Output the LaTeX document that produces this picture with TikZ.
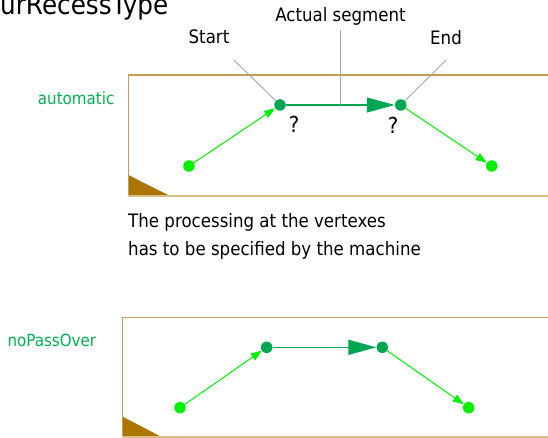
\documentclass[tikz,border=0pt]{standalone}
\usepackage{fontspec}
\setmainfont{DejaVu Sans}[FakeStretch=0.9]
\usetikzlibrary{arrows.meta}
\definecolor{boxc}{RGB}{196,156,84}
\definecolor{boxlight}{RGB}{218,190,136}
\definecolor{wedge}{RGB}{170,117,0}
\definecolor{lgreen}{RGB}{0,240,0}
\definecolor{dgreen}{RGB}{0,166,81}
\definecolor{lblgreen}{RGB}{0,176,80}
\definecolor{leadc}{RGB}{165,165,165}
\begin{document}
\begin{tikzpicture}[x=1pt,y=-1pt,
  txt/.style={inner sep=0pt,font=\fontsize{18.5}{22}\selectfont,text=black},
  lbl/.style={inner sep=0pt,font=\fontsize{16.8}{20}\selectfont,text=lblgreen},
  qm/.style={inner sep=0pt,font=\fontsize{22}{26}\selectfont,text=black},
  ttl/.style={inner sep=0pt,font=\fontsize{27.4}{32}\selectfont,text=black},
  ldot/.style={circle,inner sep=0pt,minimum size=11.5pt,fill=lgreen},
  ddot/.style={circle,inner sep=0pt,minimum size=11.5pt,fill=dgreen},
  thinarrow/.style={draw=lgreen,line width=1pt,-{Triangle[length=11pt,width=8pt]},fill=lgreen},
  segarrow/.style={draw=dgreen,line width=1.2pt,-{Triangle[length=28pt,width=15pt]},fill=dgreen},
  leadline/.style={draw=leadc,line width=0.9pt},
  frametop/.style={draw=boxc,line width=1.5pt},
  framebot/.style={draw=boxlight,line width=1.5pt},
  wedgefill/.style={fill=wedge}
]
\useasboundingbox (0,0) rectangle (548,438);

% title
\node[ttl,anchor=base west] (title) at (0,15) {urRecessType};

% ---------- top panel ----------
\fill[wedgefill] (128.3,175) -- (128.3,196) -- (170,196) -- cycle;
\draw[frametop] (550,75) -- (128.3,75) -- (128.3,196);
\draw[framebot] (128.3,196) -- (550,196);

\node[lbl,anchor=base west] (auto) at (37.7,105) {automatic};

\node[ldot] (a1) at (189,166) {};
\node[ddot] (a2) at (280,105) {};
\node[ddot] (a3) at (400.7,105) {};
\node[ldot] (a4) at (491.7,166) {};
\coordinate (amid) at (340.7,105);

\draw[thinarrow] (a1) -- (a2);
\draw[segarrow] (a2) -- (a3);
\draw[thinarrow] (a3) -- (a4);

\node[qm] (q1) at (294,124) {?};
\node[qm] (q2) at (393,125) {?};

\node[txt,anchor=base] (start) at (209,44) {Start};
\node[txt,anchor=base] (actual) at (340.5,21.5) {Actual segment};
\node[txt,anchor=base] (endl) at (446,44.5) {End};
\coordinate (startfoot) at (234,60);
\coordinate (actualfoot) at (340.7,30);
\coordinate (endfoot) at (446,60);
\draw[leadline] (startfoot) -- (a2);
\draw[leadline] (actualfoot) -- (amid);
\draw[leadline] (endfoot) -- (a3);

\node[txt,anchor=base west] (note1) at (128,227) {The processing at the vertexes};
\node[txt,anchor=base west] (note2) at (128,255) {has to be specified by the machine};

% ---------- bottom panel ----------
\fill[wedgefill] (122.7,416.7) -- (122.7,437) -- (161.7,437) -- cycle;
\draw[frametop] (550,317.3) -- (122.7,317.3) -- (122.7,437);
\draw[framebot] (122.7,437) -- (550,437);

\node[lbl,anchor=base west] (nopass) at (7.3,346.7) {noPassOver};

\node[ldot] (b1) at (180,407.7) {};
\node[ddot] (b2) at (266.7,347.3) {};
\node[ddot] (b3) at (382.3,347.3) {};
\node[ldot] (b4) at (468.7,407.7) {};

\draw[thinarrow] (b1) -- (b2);
\draw[segarrow] (b2) -- (b3);
\draw[thinarrow] (b3) -- (b4);
\end{tikzpicture}
\end{document}
